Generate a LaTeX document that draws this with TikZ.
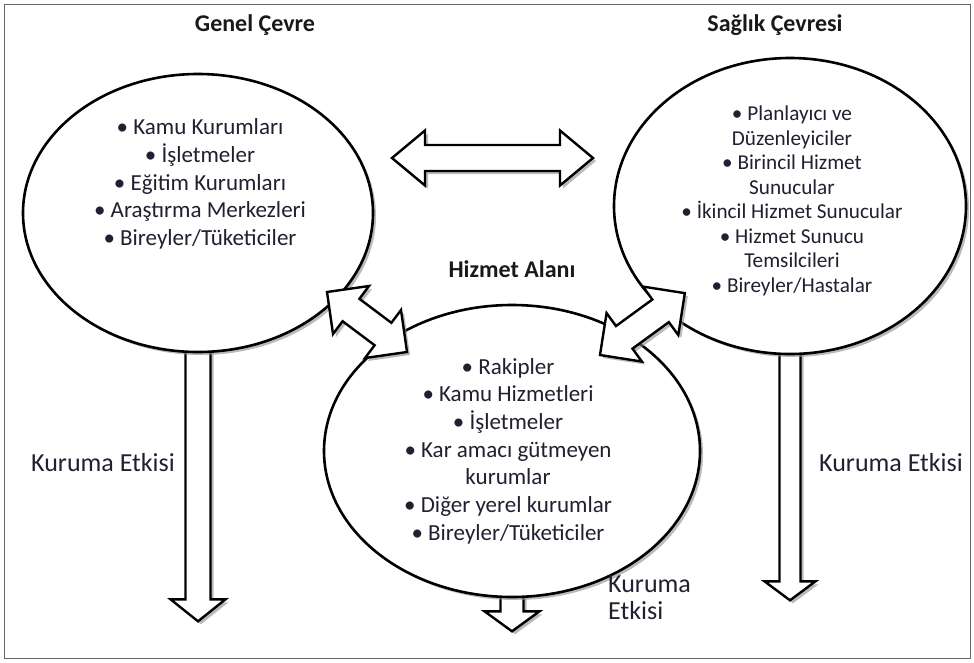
\documentclass[tikz,border=0pt]{standalone}
\usepackage{fontspec}
\setmainfont{Carlito}
\usetikzlibrary{shapes.geometric,shadows,backgrounds}

\definecolor{inktext}{RGB}{32,32,48}

\tikzset{
  env/.style={ellipse, draw, line width=2.6pt, fill=white,
    drop shadow={shadow xshift=3pt, shadow yshift=-3pt, fill=black!45, opacity=0.6}},
  blockarrow/.style={draw, line width=2.4pt, fill=white, line join=miter,
    drop shadow={shadow xshift=3pt, shadow yshift=-3pt, fill=black!45, opacity=0.6}},
  listtext/.style={align=center, inner sep=0pt, text=inktext},
  title/.style={inner sep=0pt, text=black!90, font=\bfseries\fontsize{24}{28}\selectfont},
  effect/.style={inner sep=0pt, text=inktext, font=\fontsize{26}{27}\selectfont},
  % #1 length, #2 head length, #3 head half width, #4 shaft half width
  pics/dblarrow/.style n args={4}{code={
    \draw[blockarrow] (0,0) -- (#2,#3) -- (#2,#4) -- (#1-#2,#4) -- (#1-#2,#3) -- (#1,0)
      -- (#1-#2,-#3) -- (#1-#2,-#4) -- (#2,-#4) -- (#2,-#3) -- cycle;}},
  pics/downarrow/.style n args={4}{code={
    \draw[blockarrow] (0,#4) -- (#1-#2,#4) -- (#1-#2,#3) -- (#1,0) -- (#1-#2,-#3)
      -- (#1-#2,-#4) -- (0,-#4) -- cycle;}},
}

\begin{document}
\begin{tikzpicture}[x=1pt, y=-1pt]
    \useasboundingbox (0,0) rectangle (974,662);
    \draw[black!60, line width=1pt] (4,4) rectangle (970,658);

    % the three environments
    \node[env, minimum width=350pt, minimum height=278pt] (genel) at (198,213) {};
    \node[env, minimum width=352pt, minimum height=296pt] (saglik) at (790,206) {};
    \node[env, minimum width=376pt, minimum height=292pt] (hizmet) at (512,451) {};

    % effect arrows, behind the circles
    \begin{pgfonlayer}{background}
        \pic[rotate=-90] at ([yshift=12pt]genel.south) {downarrow={280}{22}{27.5}{12.5}};
        \pic[rotate=-90] at ([yshift=12pt]hizmet.south) {downarrow={45}{20}{27.5}{11.5}};
        \pic[rotate=-90] at ([yshift=12pt]saglik.south) {downarrow={257}{19}{25.5}{10.5}};
    \end{pgfonlayer}

    % interaction arrows
    \pic at (392,158) {dblarrow={201}{33}{27.5}{13}};
    \pic[rotate=-36.87] at (327,292) {dblarrow={100}{30}{30}{14}};
    \pic[rotate=36.1] at (600,355) {dblarrow={105}{30}{30}{14}};

    \node[title] (geneltitle) at (255,25) {Genel Çevre};
    \node[title] (sagliktitle) at (775,25) {Sağlık Çevresi};
    \node[title] (hizmettitle) at (512,269) {Hizmet Alanı};

    \node[listtext, font=\fontsize{23}{27.7}\selectfont] (genellist) at (200,184)
        {• Kamu Kurumları\\• İşletmeler\\• Eğitim Kurumları\\• Araştırma Merkezleri\\• Bireyler/Tüketiciler};
    \node[listtext, font=\fontsize{21.2}{24.5}\selectfont] (sagliklist) at (792,201)
        {• Planlayıcı ve\\Düzenleyiciler\\• Birincil Hizmet\\Sunucular\\• İkincil Hizmet Sunucular\\• Hizmet Sunucu\\Temsilcileri\\• Bireyler/Hastalar};
    \node[listtext, font=\fontsize{23}{27.7}\selectfont] (hizmetlist) at (508,451)
        {• Rakipler\\• Kamu Hizmetleri\\• İşletmeler\\• Kar amacı gütmeyen\\kurumlar\\• Diğer yerel kurumlar\\• Bireyler/Tüketiciler};

    \node[effect] (genelfx) at (103,463) {Kuruma Etkisi};
    \node[effect] (saglikfx) at (891,463) {Kuruma Etkisi};
    \node[effect, anchor=west, align=left] (hizmetfx) at (608,598) {Kuruma\\Etkisi};
\end{tikzpicture}
\end{document}
